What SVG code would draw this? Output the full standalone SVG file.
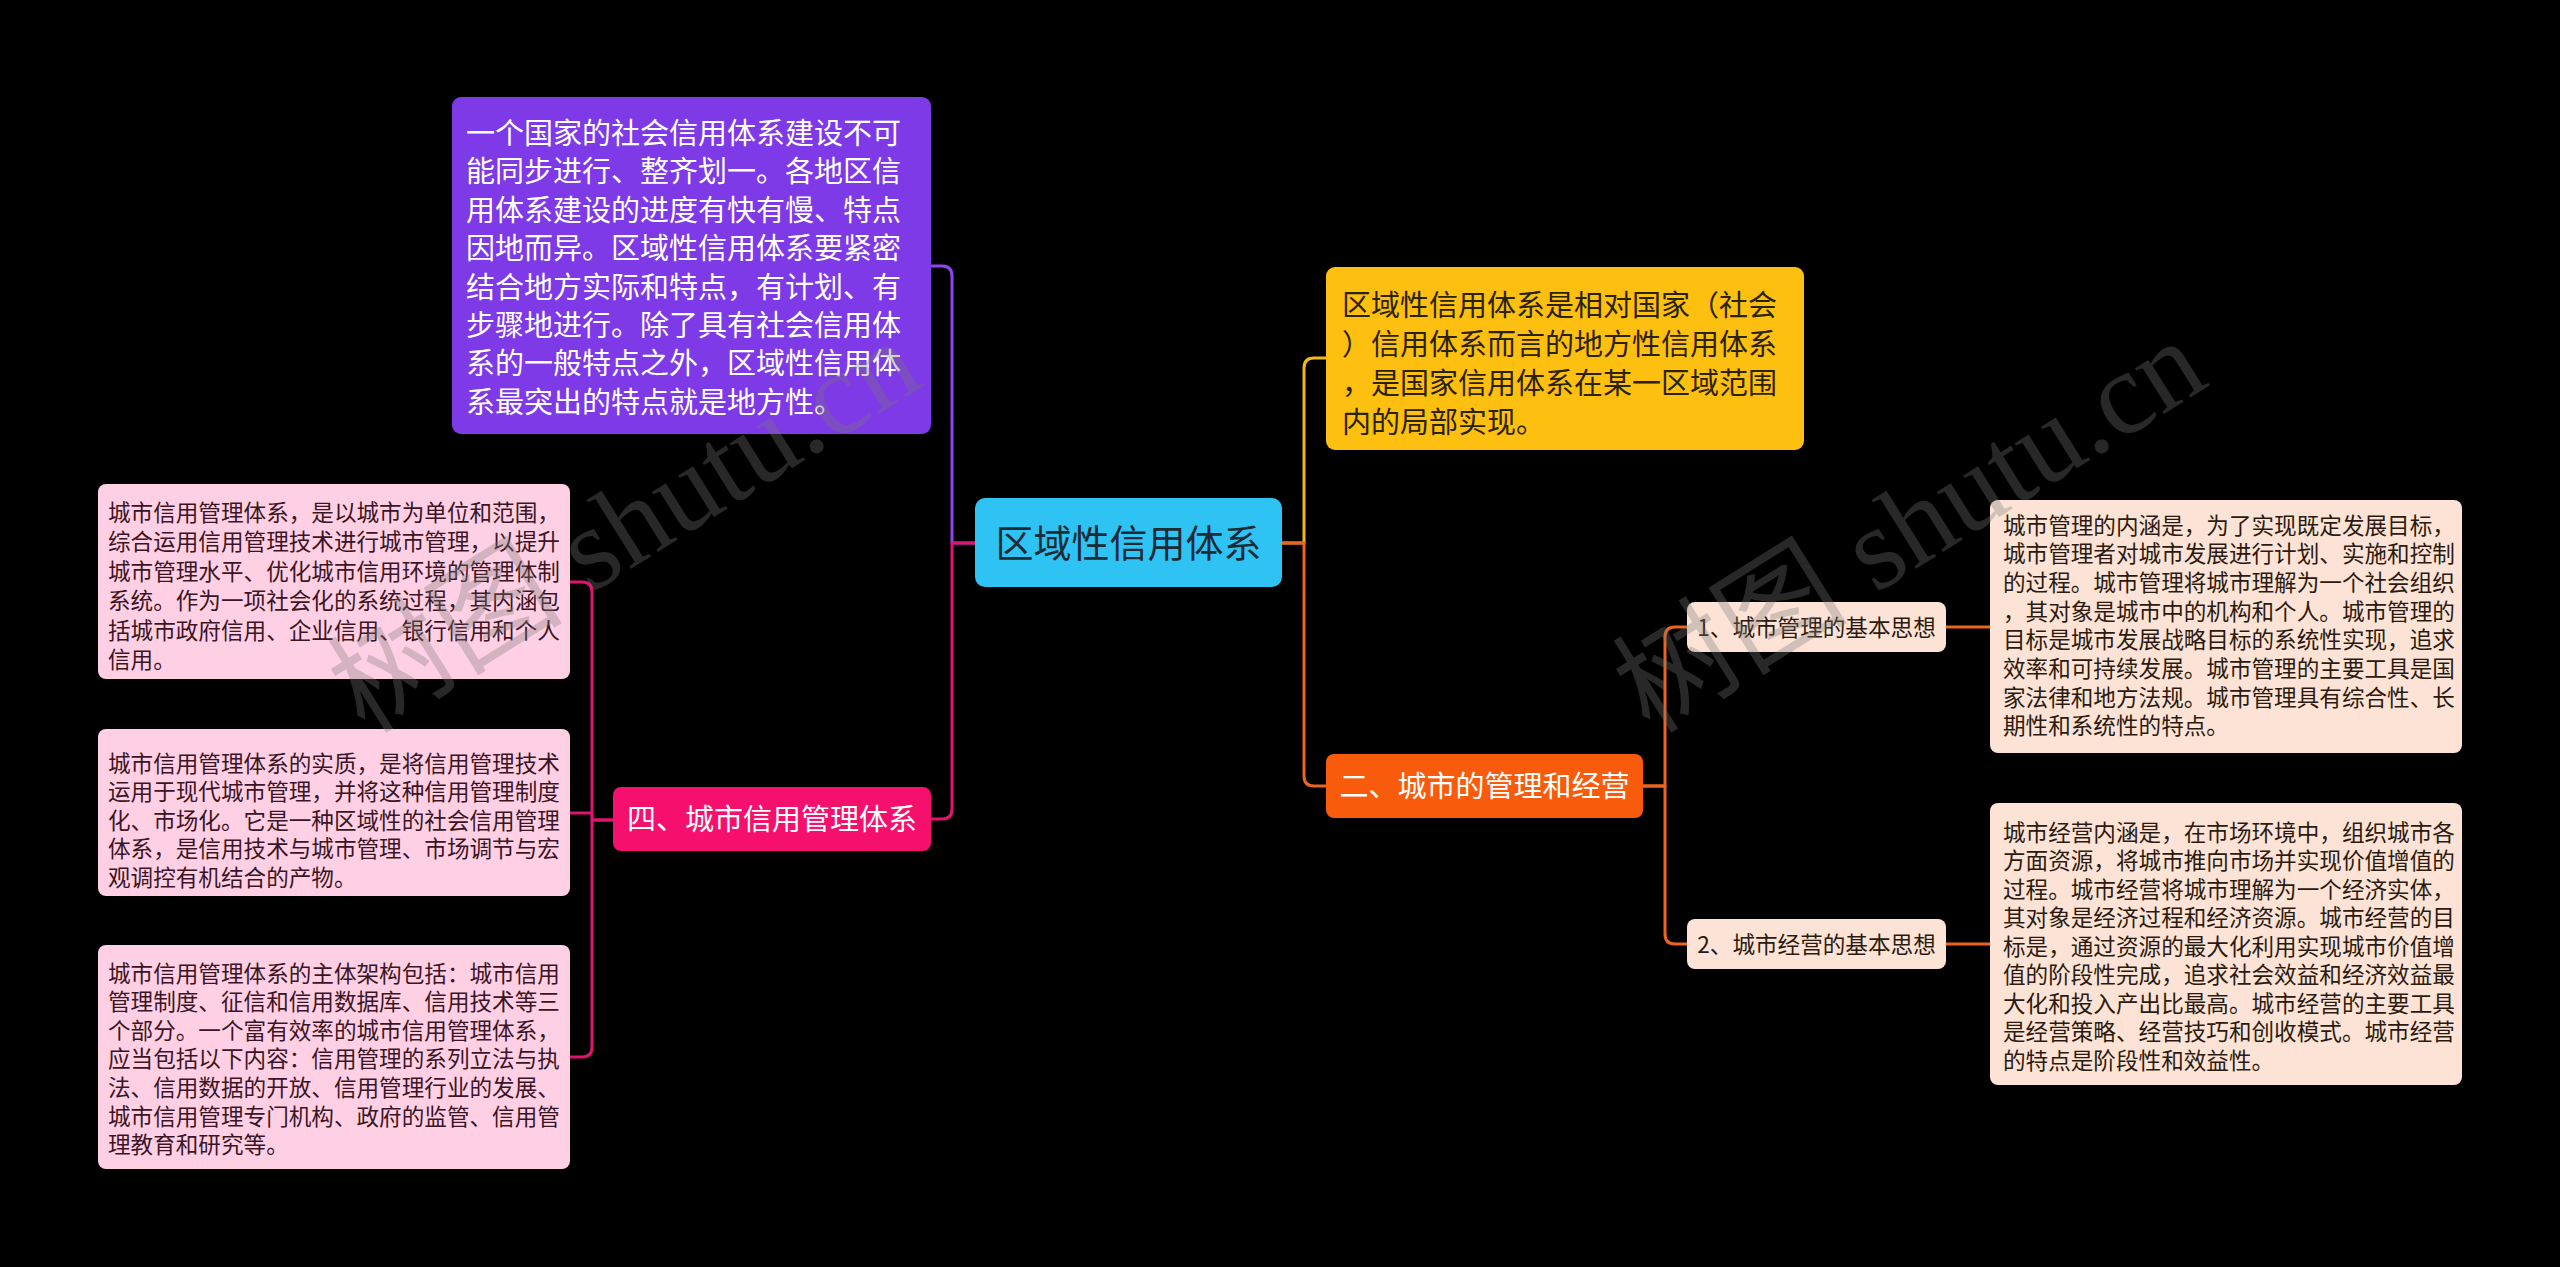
<svg xmlns="http://www.w3.org/2000/svg" width="2560" height="1267" viewBox="0 0 2560 1267">
<style>
text { font-family: "Noto Sans CJK SC", "Noto Sans", sans-serif; }
.t29 { font-size: 29px; }
.t22 { font-size: 22.6px; }
.w { fill: #ffffff; }
.dk { fill: #2a1a10; }
.pk { fill: #3a1525; }
.yk { fill: #2b2200; }
.conn { fill: none; stroke-width: 3; stroke-linecap: round; stroke-linejoin: round; }
.wm { font-family: "Liberation Serif", "Noto Sans CJK SC", serif; font-size: 118px; fill: #7a7a7a; fill-opacity: 0.33; }
</style>
<rect x="0" y="0" width="2560" height="1267" fill="#000000"/>

<g id="connectors">
  <path class="conn" stroke="#8E44F0" d="M975,543 H952 V276 Q952,266 942,266 H931"/>
  <path class="conn" stroke="#E0136E" d="M975,543 H952 V809 Q952,819 942,819 H931"/>
  <path class="conn" stroke="#F2B81A" d="M1282,543 H1304 V368 Q1304,358 1314,358 H1326"/>
  <path class="conn" stroke="#EB6420" d="M1282,543 H1304 V776 Q1304,786 1314,786 H1326"/>
  <path class="conn" stroke="#EB6420" d="M1643,786 H1665 V637 Q1665,627 1675,627 H1687"/>
  <path class="conn" stroke="#EB6420" d="M1643,786 H1665 V934 Q1665,944 1675,944 H1687"/>
  <path class="conn" stroke="#EB6420" d="M1946,627 H1990"/>
  <path class="conn" stroke="#EB6420" d="M1946,944 H1990"/>
  <path class="conn" stroke="#E0136E" d="M613,820 H592 V592 Q592,582 582,582 H570"/>
  <path class="conn" stroke="#E0136E" d="M592,815 Q592,813 590,813 H570"/>
  <path class="conn" stroke="#E0136E" d="M613,820 H592 V1047 Q592,1057 582,1057 H570"/>
</g>

<g id="node-center">
  <rect x="975" y="498" width="307" height="89" rx="10" fill="#2EC3F3"/>
  <text x="1128.5" y="557" font-size="38" text-anchor="middle" fill="#1d2b36">区域性信用体系</text>
</g>

<g id="node-purple">
  <rect x="452" y="97" width="479" height="337" rx="9" fill="#7E3AE6"/>
  <text class="t29 w" x="466">
    <tspan x="466" y="144">一个国家的社会信用体系建设不可</tspan>
    <tspan x="466" y="182.4">能同步进行、整齐划一。各地区信</tspan>
    <tspan x="466" y="220.8">用体系建设的进度有快有慢、特点</tspan>
    <tspan x="466" y="259.2">因地而异。区域性信用体系要紧密</tspan>
    <tspan x="466" y="297.6">结合地方实际和特点，有计划、有</tspan>
    <tspan x="466" y="336">步骤地进行。除了具有社会信用体</tspan>
    <tspan x="466" y="374.4">系的一般特点之外，区域性信用体</tspan>
    <tspan x="466" y="412.8">系最突出的特点就是地方性。</tspan>
  </text>
</g>

<g id="node-yellow">
  <rect x="1326" y="267" width="478" height="183" rx="9" fill="#FDBF10"/>
  <text class="t29 yk">
    <tspan x="1342" y="316">区域性信用体系是相对国家（社会</tspan>
    <tspan x="1342" y="354.9">）信用体系而言的地方性信用体系</tspan>
    <tspan x="1342" y="393.8">，是国家信用体系在某一区域范围</tspan>
    <tspan x="1342" y="432.7">内的局部实现。</tspan>
  </text>
</g>

<g id="node-city-mgmt">
  <rect x="1326" y="754" width="317" height="64" rx="8" fill="#F95B0C"/>
  <text class="t29 w" x="1484.5" y="797" text-anchor="middle">二、城市的管理和经营</text>
</g>

<g id="node-credit-system">
  <rect x="613" y="787" width="318" height="64" rx="8" fill="#F5106D"/>
  <text class="t29 w" x="772" y="830" text-anchor="middle">四、城市信用管理体系</text>
</g>

<g id="node-sub1">
  <rect x="1687" y="602" width="259" height="50" rx="8" fill="#FCE3D5"/>
  <text class="t22 dk" x="1816.5" y="635.5" text-anchor="middle">1、城市管理的基本思想</text>
</g>

<g id="node-sub2">
  <rect x="1687" y="919" width="259" height="50" rx="8" fill="#FCE3D5"/>
  <text class="t22 dk" x="1816.5" y="952.5" text-anchor="middle">2、城市经营的基本思想</text>
</g>

<g id="node-leaf-r1">
  <rect x="1990" y="500" width="472" height="253" rx="8" fill="#FCE3D5"/>
  <text class="t22 dk">
    <tspan x="2003" y="533.5">城市管理的内涵是，为了实现既定发展目标，</tspan>
    <tspan x="2003" y="562.2">城市管理者对城市发展进行计划、实施和控制</tspan>
    <tspan x="2003" y="590.9">的过程。城市管理将城市理解为一个社会组织</tspan>
    <tspan x="2003" y="619.6">，其对象是城市中的机构和个人。城市管理的</tspan>
    <tspan x="2003" y="648.3">目标是城市发展战略目标的系统性实现，追求</tspan>
    <tspan x="2003" y="677">效率和可持续发展。城市管理的主要工具是国</tspan>
    <tspan x="2003" y="705.7">家法律和地方法规。城市管理具有综合性、长</tspan>
    <tspan x="2003" y="734.4">期性和系统性的特点。</tspan>
  </text>
</g>

<g id="node-leaf-r2">
  <rect x="1990" y="803" width="472" height="282" rx="8" fill="#FCE3D5"/>
  <text class="t22 dk">
    <tspan x="2003" y="840.5">城市经营内涵是，在市场环境中，组织城市各</tspan>
    <tspan x="2003" y="869">方面资源，将城市推向市场并实现价值增值的</tspan>
    <tspan x="2003" y="897.5">过程。城市经营将城市理解为一个经济实体，</tspan>
    <tspan x="2003" y="926">其对象是经济过程和经济资源。城市经营的目</tspan>
    <tspan x="2003" y="954.5">标是，通过资源的最大化利用实现城市价值增</tspan>
    <tspan x="2003" y="983">值的阶段性完成，追求社会效益和经济效益最</tspan>
    <tspan x="2003" y="1011.5">大化和投入产出比最高。城市经营的主要工具</tspan>
    <tspan x="2003" y="1040">是经营策略、经营技巧和创收模式。城市经营</tspan>
    <tspan x="2003" y="1068.5">的特点是阶段性和效益性。</tspan>
  </text>
</g>

<g id="node-leaf-l1">
  <rect x="98" y="484" width="472" height="195" rx="8" fill="#FFD0E3"/>
  <text class="t22 pk">
    <tspan x="108" y="520.5">城市信用管理体系，是以城市为单位和范围，</tspan>
    <tspan x="108" y="550">综合运用信用管理技术进行城市管理，以提升</tspan>
    <tspan x="108" y="579.5">城市管理水平、优化城市信用环境的管理体制</tspan>
    <tspan x="108" y="609">系统。作为一项社会化的系统过程，其内涵包</tspan>
    <tspan x="108" y="638.5">括城市政府信用、企业信用、银行信用和个人</tspan>
    <tspan x="108" y="668">信用。</tspan>
  </text>
</g>

<g id="node-leaf-l2">
  <rect x="98" y="729" width="472" height="167" rx="8" fill="#FFD0E3"/>
  <text class="t22 pk">
    <tspan x="108" y="771.5">城市信用管理体系的实质，是将信用管理技术</tspan>
    <tspan x="108" y="800">运用于现代城市管理，并将这种信用管理制度</tspan>
    <tspan x="108" y="828.5">化、市场化。它是一种区域性的社会信用管理</tspan>
    <tspan x="108" y="857">体系，是信用技术与城市管理、市场调节与宏</tspan>
    <tspan x="108" y="885.5">观调控有机结合的产物。</tspan>
  </text>
</g>

<g id="node-leaf-l3">
  <rect x="98" y="945" width="472" height="224" rx="8" fill="#FFD0E3"/>
  <text class="t22 pk">
    <tspan x="108" y="981.5">城市信用管理体系的主体架构包括：城市信用</tspan>
    <tspan x="108" y="1010.1">管理制度、征信和信用数据库、信用技术等三</tspan>
    <tspan x="108" y="1038.7">个部分。一个富有效率的城市信用管理体系，</tspan>
    <tspan x="108" y="1067.3">应当包括以下内容：信用管理的系列立法与执</tspan>
    <tspan x="108" y="1095.9">法、信用数据的开放、信用管理行业的发展、</tspan>
    <tspan x="108" y="1124.5">城市信用管理专门机构、政府的监管、信用管</tspan>
    <tspan x="108" y="1153.1">理教育和研究等。</tspan>
  </text>
</g>

<g id="watermark">
  <text class="wm" transform="translate(365,735) rotate(-32)">树图 shutu.cn</text>
  <text class="wm" transform="translate(1650,735) rotate(-32)">树图 shutu.cn</text>
</g>
</svg>
